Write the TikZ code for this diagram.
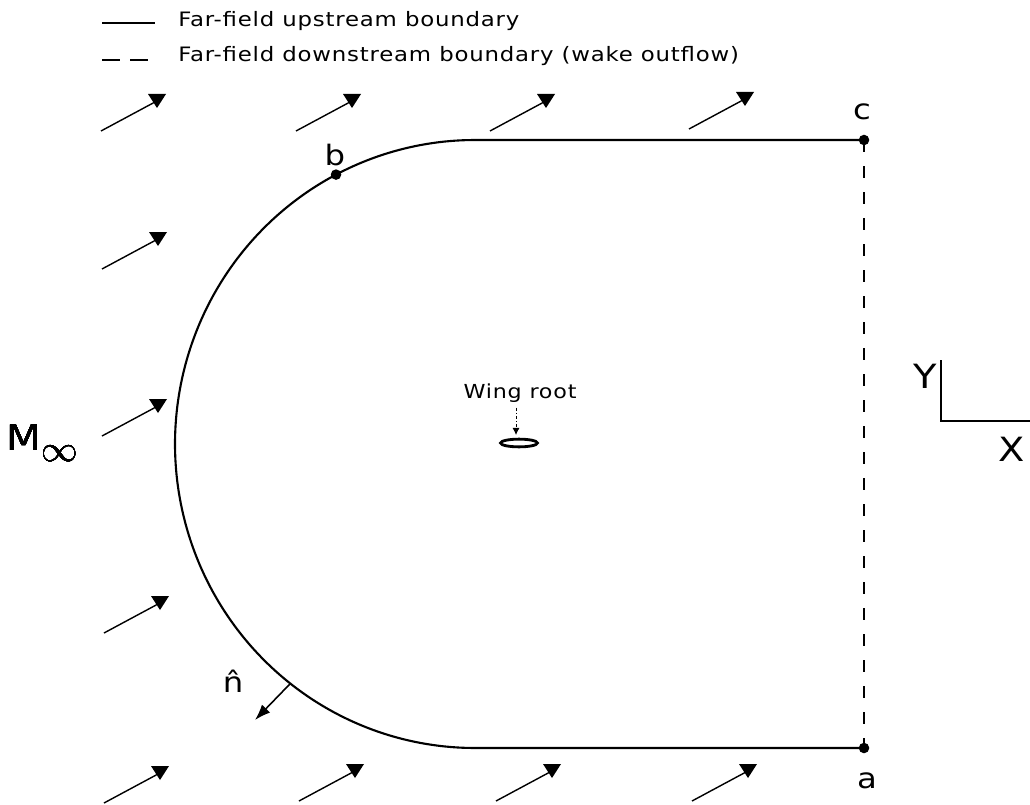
\documentclass[tikz,border=0pt]{standalone}
\usepackage{fontspec}
\setmainfont{DejaVu Sans}[FakeStretch=1.15,LetterSpace=4]
\usetikzlibrary{arrows.meta,positioning}
\tikzset{
    bdry line/.style={line width=1.2pt},
    wake line/.style={line width=1.2pt, dash pattern=on 6.8pt off 8pt},
    flow line/.style={line width=0.8pt},
    flow tip/.style={fill=black},
    pt dot/.style={circle, fill=black, inner sep=0pt, minimum size=6pt},
    pt label/.style={inner sep=0pt, font=\fontsize{16}{18}\selectfont},
    axis label/.style={inner sep=0pt, font=\fontsize{19}{21}\selectfont},
    legend text/.style={anchor=west, inner sep=0pt, font=\fontsize{11.3}{13}\selectfont},
    small text/.style={inner sep=0pt, font=\fontsize{11}{13}\selectfont},
    normal arrow/.style={-{Latex[length=9pt,width=6.5pt]}, line width=0.9pt},
    root pointer/.style={-{Latex[length=4pt,width=4pt]}, line width=0.5pt, dash pattern=on 2pt off 1pt on 0.6pt off 1pt}
}
\newcommand{\flowarrow}[2]{%
    \draw[flow line] (#1-56,#2+31) -- (#1-2,#2+2);
    \fill[flow tip] (#1-9,#2-6) -- (#1+9,#2-6) -- (#1,#2+8) -- cycle;
}

\begin{document}
\begin{tikzpicture}[x=0.02cm,y=-0.02cm]
    \useasboundingbox (0,0) rectangle (1030,804);

    % legend
    \coordinate (leg1a) at (102,23);
    \coordinate (leg1b) at (155,23);
    \draw[line width=0.8pt] (leg1a) -- (leg1b);
    \node[legend text] (leg1) at (178,21) {Far-field upstream boundary};
    \coordinate (leg2a) at (102,60);
    \coordinate (leg2b) at (120,60);
    \coordinate (leg2c) at (130,60);
    \coordinate (leg2d) at (148,60);
    \draw[line width=0.8pt] (leg2a) -- (leg2b) (leg2c) -- (leg2d);
    \node[legend text] (leg2) at (178,56) {Far-field downstream boundary (wake outflow)};

    % free stream
    \foreach \fx/\fy in {157/100,352/100,546/100,745/98,158/238,158/405,160/602,160/772,355/770,552/770,748/770}
        \flowarrow{\fx}{\fy}
    \node[inner sep=0pt, font=\fontsize{20}{22}\selectfont] (minf) at (42,443) {M\raisebox{-6pt}{$\infty$}};

    % boundary
    \coordinate (c) at (864,140);
    \coordinate (a) at (864,748);
    \coordinate (top) at (475,140);
    \coordinate (bot) at (475,748);
    \draw[bdry line] (c) -- (top)
        plot[domain=90:270, samples=90, smooth] ({475+300*cos(\x)},{444-304*sin(\x)})
        -- (a);
    \draw[wake line] (c) -- (a);
    \coordinate (b) at ({475+300*cos(117.6)},{444-304*sin(117.6)});
    \node[pt dot] (bdot) at (b) {};
    \node[pt dot] (cdot) at (c) {};
    \node[pt dot] (adot) at (a) {};
    \node[pt label] (blab) at (335,155) {b};
    \node[pt label] (clab) at (862,112) {c};
    \node[pt label] (alab) at (867,781) {a};

    % normal
    \coordinate (nbase) at ({475+300*cos(232)},{444-304*sin(232)});
    \coordinate (ntip) at (255,720);
    \draw[normal arrow] (nbase) -- (ntip);
    \node[pt label] (nhat) at (233,681) {\^{n}};

    % wing root
    \node[small text] (wing) at (520,393) {Wing root};
    \coordinate (root) at (519,443);
    \coordinate (roottop) at (516,435);
    \draw[root pointer] (wing.south -| roottop) ++(0,5) -- (roottop);
    \draw[line width=1.6pt] (root) ellipse [x radius=10.5pt, y radius=2.2pt];

    % axes
    \coordinate (origin) at (941,421);
    \coordinate (yend) at (941,360);
    \coordinate (xend) at (1032,421);
    \draw[line width=1.1pt] (yend) -- (origin) -- (xend);
    \node[axis label] (ylab) at (925,376) {Y};
    \node[axis label] (xlab) at (1012,449) {X};
\end{tikzpicture}
\end{document}
